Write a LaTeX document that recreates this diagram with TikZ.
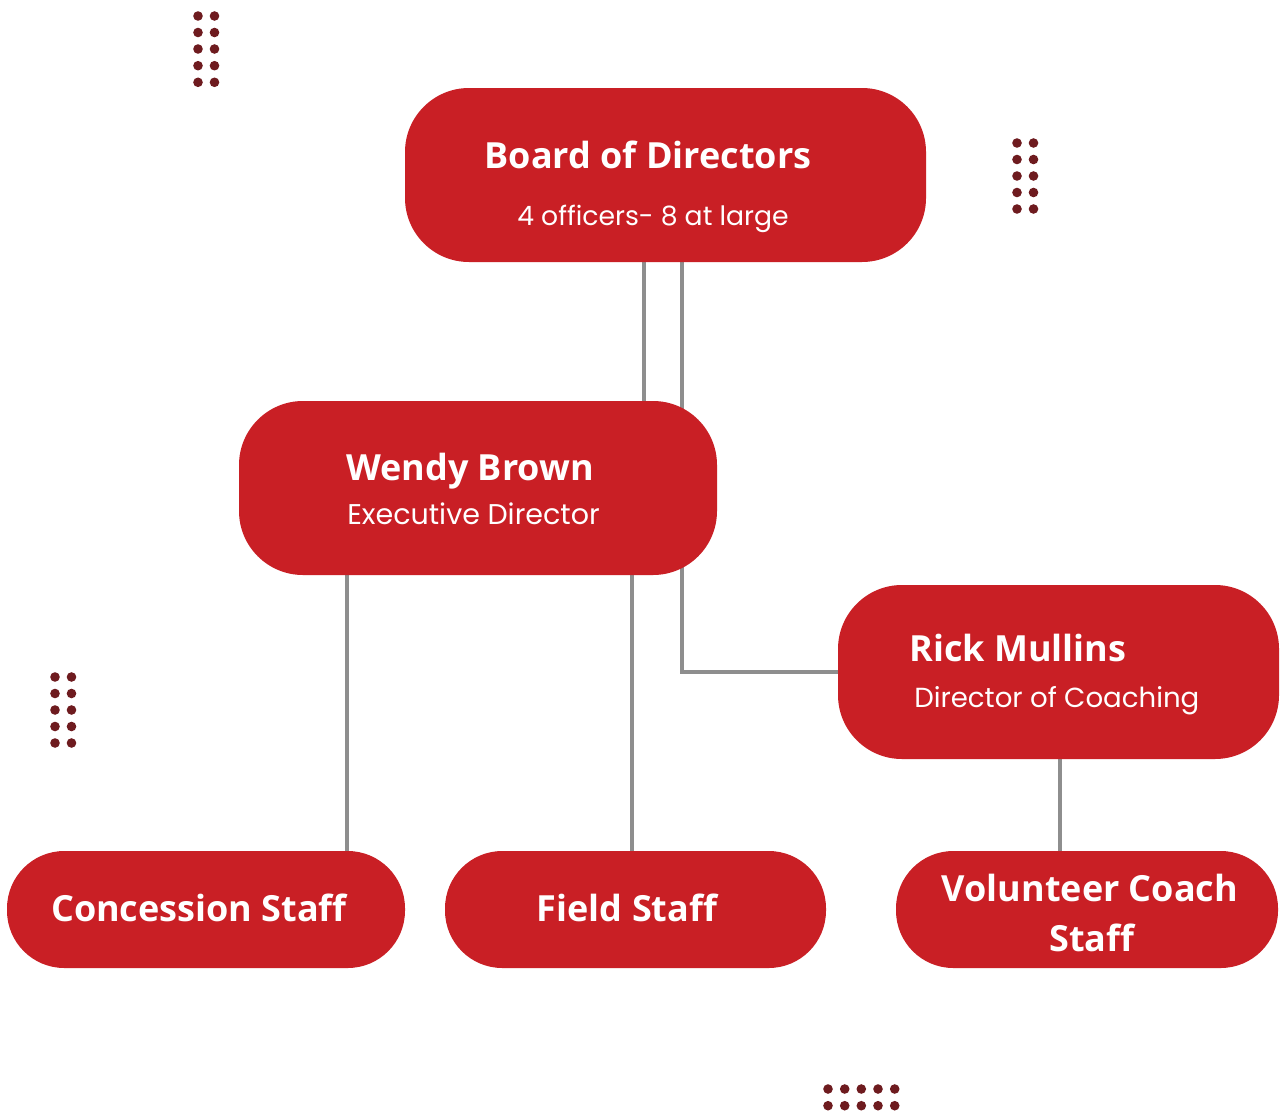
\documentclass[tikz,border=0pt]{standalone}
\usepackage{fontspec}
\setmainfont{Open Sans}
\newfontfamily\subfont{Poppins}
\definecolor{boxred}{HTML}{C91F25}
\definecolor{dotred}{HTML}{6E1B1F}
\definecolor{linegray}{HTML}{8E8E8E}
\pgfdeclarelayer{paper}
\pgfdeclarelayer{lines}
\pgfsetlayers{paper,lines,main}
\begin{document}
\begin{tikzpicture}[x=0.75pt,y=-0.75pt,
  box/.style={fill=boxred,draw=none,rounded corners=48pt,inner sep=0pt,outer sep=0pt},
  pill/.style={fill=boxred,draw=none,rounded corners=43pt,inner sep=0pt,outer sep=0pt},
  title/.style={text=white,font=\fontsize{27}{32}\selectfont\bfseries,inner sep=0pt,anchor=base},
  sub/.style={text=white,font=\subfont\fontsize{20.3}{24}\selectfont,inner sep=0pt,anchor=base},
  conn/.style={draw=linegray,line width=2.6pt},
  dot/.style={fill=dotred}]
\useasboundingbox (0,0) rectangle (1280,1113);
\begin{pgfonlayer}{paper}
\fill[white] (0,0) rectangle (1280,1113);
\end{pgfonlayer}
% boxes
\node[box,minimum width=390.75pt,minimum height=130.5pt] (board) at (665.5,175) {};
\node[box,minimum width=358.5pt,minimum height=130.5pt] (wendy) at (478,488) {};
\node[box,minimum width=330.75pt,minimum height=130.5pt] (rick) at (1058.5,672) {};
\node[pill,minimum width=298.5pt,minimum height=87.75pt] (conc) at (206,909.5) {};
\node[pill,minimum width=285.75pt,minimum height=87.75pt] (field) at (635.5,909.5) {};
\node[pill,minimum width=286.5pt,minimum height=87.75pt] (vol) at (1087,909.5) {};
% connectors (behind boxes)
\begin{pgfonlayer}{lines}
\draw[conn] (board.south -| 644,0) -- (wendy.north -| 644,0);
\draw[conn] (board.south -| 682,0) |- (rick.west);
\draw[conn] (wendy.south -| 347,0) -- (conc.north -| 347,0);
\draw[conn] (wendy.south -| 632,0) -- (field.north -| 632,0);
\draw[conn] (rick.south -| 1060,0) -- (vol.north -| 1060,0);
\end{pgfonlayer}
% texts
\node[title] (t1) at (648,168.5) {Board of Directors};
\node[sub,font=\subfont\fontsize{20}{24}\selectfont] (s1) at (653,225) {4 officers- 8 at large};
\node[title,anchor=base west] (t2) at (346,480) {Wendy Brown};
\node[sub,anchor=base west,font=\subfont\fontsize{21.4}{24}\selectfont] (s2) at (347,524) {Executive Director};
\node[title,anchor=base west] (t3) at (909,661) {Rick Mullins};
\node[sub,anchor=base west,font=\subfont\fontsize{20.7}{24}\selectfont] (s3) at (914,707.5) {Director of Coaching};
\node[title] (t4) at (199,921.5) {Concession Staff};
\node[title] (t5) at (627,921.5) {Field Staff};
\node[title] (t6) at (1090,901.5) {Volunteer Coach};
\node[title] (t7) at (1092,951) {Staff};
% dot grids
\foreach \y in {16,32.5,49,65.7,82.3}{
  \fill[dot] (198,\y) circle (3.6pt);
  \fill[dot] (214.5,\y) circle (3.6pt);}
\foreach \y in {143,159.5,176,192.5,209}{
  \fill[dot] (1017,\y) circle (3.6pt);
  \fill[dot] (1033.5,\y) circle (3.6pt);}
\foreach \y in {677,693.5,710,726.5,743}{
  \fill[dot] (55,\y) circle (3.6pt);
  \fill[dot] (71.5,\y) circle (3.6pt);}
\foreach \x in {828,844.7,861.3,878,894.7}{
  \fill[dot] (\x,1089) circle (3.6pt);
  \fill[dot] (\x,1105.7) circle (3.6pt);}
\end{tikzpicture}
\end{document}
